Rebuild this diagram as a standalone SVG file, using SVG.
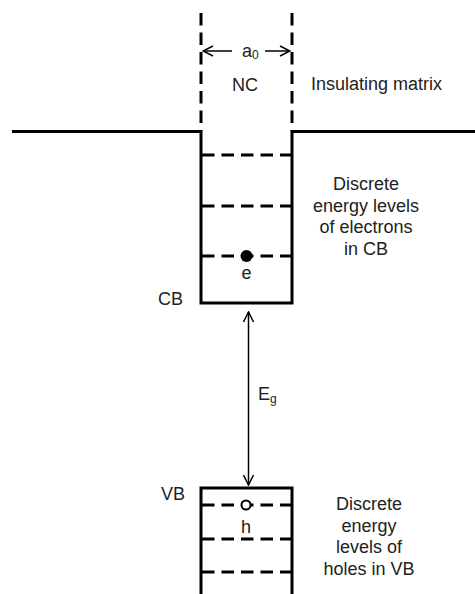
<svg xmlns="http://www.w3.org/2000/svg" width="475" height="594" viewBox="0 0 475 594">
<defs>
<style>
.t{font-family:"Liberation Sans",Arial,sans-serif;font-size:18px;fill:#222}
.m{text-anchor:middle}
.solid{fill:none;stroke:#000;stroke-width:3}
.dash{fill:none;stroke:#000;stroke-width:3;stroke-dasharray:12.5 7}
.arr{fill:none;stroke:#000;stroke-width:1.5}
</style>
<marker id="ah" viewBox="0 0 12 12" refX="11" refY="6" markerWidth="12" markerHeight="12" markerUnits="userSpaceOnUse" orient="auto-start-reverse">
<path d="M1,1 L11,6 L1,11" fill="none" stroke="#000" stroke-width="1.5"/>
</marker>
</defs>
<rect width="475" height="594" fill="#fff"/>
<g id="nc-boundaries">
<line class="dash" x1="201" y1="13" x2="201" y2="131"/>
<line class="dash" x1="292" y1="13" x2="292" y2="131"/>
</g>
<g id="cb-well">
<path class="solid" d="M12,131.5 H201 V303 H292 V131.5 H475"/>
<line class="dash" x1="202" y1="155" x2="292" y2="155"/>
<line class="dash" x1="202" y1="206" x2="292" y2="206"/>
<line class="dash" x1="202" y1="256" x2="292" y2="256"/>
<circle cx="246.5" cy="256" r="6" fill="#000"/>
<text class="t m" x="246.5" y="279">e</text>
<text class="t" x="158" y="305">CB</text>
</g>
<g id="vb-well">
<path class="solid" d="M201,594 V488 H292 V594"/>
<line class="dash" x1="202" y1="505" x2="292" y2="505"/>
<line class="dash" x1="202" y1="539" x2="292" y2="539"/>
<line class="dash" x1="202" y1="572" x2="292" y2="572"/>
<circle cx="246" cy="505" r="4.5" fill="#fff" stroke="#000" stroke-width="2"/>
<text class="t m" x="246" y="533">h</text>
<text class="t" x="161" y="500">VB</text>
</g>
<g id="labels">
<text class="t m" x="245" y="91">NC</text>
<text class="t" x="311" y="90">Insulating matrix</text>
<text class="t m" x="366" y="190">Discrete</text>
<text class="t m" x="366" y="212">energy levels</text>
<text class="t m" x="366" y="233">of electrons</text>
<text class="t m" x="366" y="255">in CB</text>
<text class="t m" x="369" y="510">Discrete</text>
<text class="t m" x="369" y="532">energy</text>
<text class="t m" x="369" y="553">levels of</text>
<text class="t m" x="369" y="575">holes in VB</text>
<text class="t" x="242" y="57">a<tspan font-size="12" dy="2">0</tspan></text>
<text class="t" x="258" y="400" font-size="17">E<tspan font-size="12" dy="3">g</tspan></text>
</g>
<g id="connectors">
<line class="arr" x1="232" y1="51" x2="203" y2="51" marker-end="url(#ah)"/>
<line class="arr" x1="265" y1="51" x2="290" y2="51" marker-end="url(#ah)"/>
<line class="arr" x1="248.5" y1="312" x2="248.5" y2="485" marker-start="url(#ah)" marker-end="url(#ah)"/>
</g>
</svg>
